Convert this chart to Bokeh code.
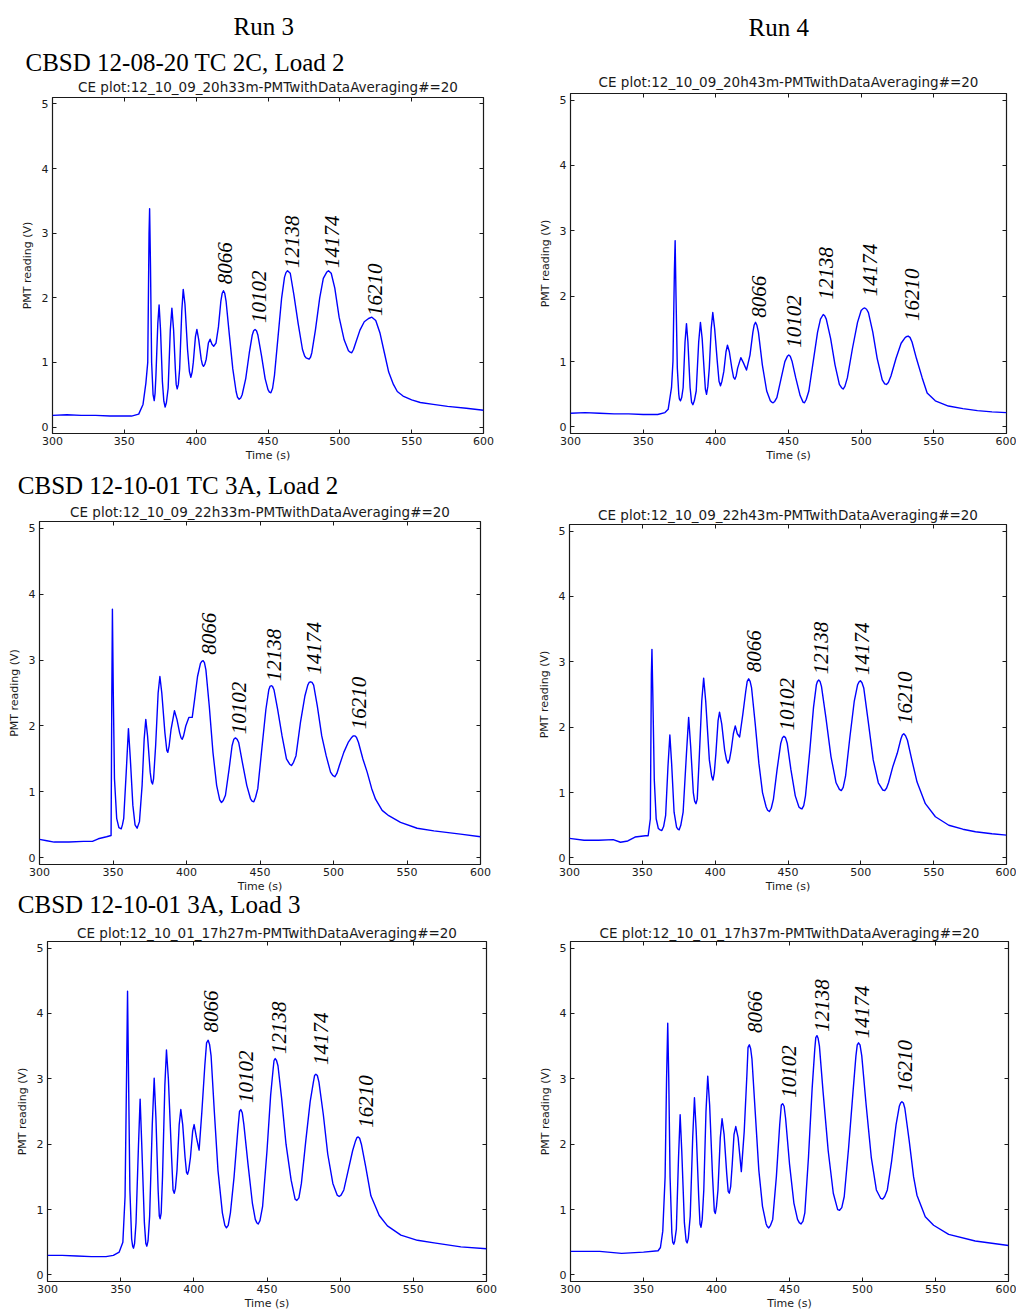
import math
from bokeh.plotting import figure
from bokeh.layouts import column, row
from bokeh.models import Range1d, FixedTicker, LinearAxis, Title, ColumnDataSource
from bokeh.core.properties import value
from bokeh.embed import file_html
from bokeh.resources import INLINE

# ---------------- data ----------------
x_ticks = [300, 350, 400, 450, 500, 550, 600]
y_ticks = [0, 1, 2, 3, 4, 5]
peak_labels = ["8066", "10102", "12138", "14174", "16210"]

titles = [
    "CE plot:12_10_09_20h33m-PMTwithDataAveraging#=20",
    "CE plot:12_10_09_20h43m-PMTwithDataAveraging#=20",
    "CE plot:12_10_09_22h33m-PMTwithDataAveraging#=20",
    "CE plot:12_10_09_22h43m-PMTwithDataAveraging#=20",
    "CE plot:12_10_01_17h27m-PMTwithDataAveraging#=20",
    "CE plot:12_10_01_17h37m-PMTwithDataAveraging#=20",
]
run_headers = ["Run 3", "Run 4"]
sample_headers = ["CBSD 12-08-20 TC 2C, Load 2",
                  "CBSD 12-10-01 TC 3A, Load 2",
                  "CBSD 12-10-01 3A, Load 3"]

# (time s, PMT reading V); extra points near peak tops / valley bottoms are listed at the end of each
trace_1 = [(300, 0.18), (310, 0.19), (320, 0.18), (330, 0.18), (340, 0.17), (350, 0.17), (355, 0.17),
           (360, 0.2), (363, 0.35), (365, 0.68), (366.3, 1.0), (367.2, 3.0), (367.6, 3.38), (368.2, 2.5),
           (369, 1.0), (370, 0.5), (370.8, 0.41), (372, 0.8), (373.3, 1.6), (374.2, 1.89), (375.2, 1.5),
           (376.5, 0.7), (378.4, 0.31), (380.5, 0.6), (382, 1.5), (383.1, 1.84), (384.3, 1.5), (385.5, 0.9),
           (386.8, 0.59), (388.5, 0.9), (390, 1.8), (391, 2.13), (392.2, 1.9), (394, 1.2), (396.3, 0.77),
           (398, 1.0), (399.5, 1.4), (400.5, 1.51), (401.8, 1.35), (403.5, 1.05), (405.1, 0.94), (407, 1.05),
           (408.5, 1.3), (409.7, 1.36), (411, 1.28), (412.2, 1.25), (413.8, 1.3), (415.5, 1.55), (417.2, 1.95),
           (419, 2.11), (420.8, 1.95), (423, 1.45), (425.5, 0.9), (427.8, 0.55), (429.9, 0.43), (432, 0.5),
           (434.5, 0.75), (437, 1.15), (439, 1.42), (441, 1.51), (443, 1.42), (445.5, 1.1), (448, 0.75),
           (450, 0.58), (452, 0.53), (454.5, 0.8), (457, 1.4), (459.5, 2.0), (461.5, 2.32), (463.6, 2.42),
           (465.5, 2.38), (468, 2.05), (471, 1.6), (474, 1.2), (476.5, 1.07), (478.6, 1.05), (480.5, 1.15),
           (483, 1.5), (486, 2.0), (488.5, 2.3), (491, 2.4), (492.1, 2.42), (494, 2.38), (496.5, 2.15),
           (499.5, 1.7), (503, 1.35), (506, 1.18), (508.3, 1.15), (511, 1.3), (514, 1.5), (517, 1.63),
           (520, 1.68), (522.3, 1.70), (525, 1.65), (528, 1.45), (531, 1.15), (534, 0.85), (537.3, 0.66),
           (540, 0.55), (544, 0.48), (550, 0.42), (556, 0.38), (565, 0.35), (575, 0.32), (588, 0.29), (600, 0.26),
           (371.4, 0.52), (377.5, 0.4), (379.3, 0.38), (386.1, 0.66), (387.6, 0.66), (395.3, 0.86),
           (397.2, 0.85), (404.3, 0.97), (406, 0.97), (418.1, 2.07), (419.9, 2.07), (428.8, 0.46),
           (431, 0.45), (440, 1.49), (442, 1.49), (451, 0.54), (453.2, 0.6), (462.5, 2.39), (475.5, 1.1),
           (479.6, 1.08), (507.2, 1.16), (509.5, 1.2)]

trace_2 = [(300, 0.21), (310, 0.22), (320, 0.21), (330, 0.2), (340, 0.2), (350, 0.19), (360, 0.19), (365, 0.22),
           (367.2, 0.27), (369.5, 0.6), (370.5, 1.0), (371.5, 2.4), (372, 2.85), (372.6, 2.0), (373.5, 0.9),
           (374.5, 0.5), (375.7, 0.4), (377.5, 0.6), (378.8, 1.3), (379.8, 1.58), (380.8, 1.3), (382.3, 0.6),
           (384.2, 0.34), (386.5, 0.55), (388.2, 1.3), (389.4, 1.6), (390.6, 1.35), (392, 0.85), (393.6, 0.5),
           (395.5, 0.9), (396.8, 1.5), (397.9, 1.75), (399.2, 1.5), (401, 1.0), (403.2, 0.63), (405.5, 0.85),
           (407, 1.15), (408, 1.25), (409.3, 1.15), (411, 0.9), (413.1, 0.73), (415, 0.9), (417.2, 1.06),
           (419, 0.98), (421.1, 0.87), (423.5, 1.1), (425.5, 1.45), (427.3, 1.6), (429.3, 1.45), (432, 0.95),
           (435, 0.55), (437.5, 0.4), (439.4, 0.37), (442, 0.45), (445, 0.75), (447.5, 1.0), (450.2, 1.1),
           (452.5, 1.0), (455, 0.75), (458, 0.48), (461, 0.37), (464, 0.55), (467, 1.0), (470, 1.45),
           (472, 1.65), (473.9, 1.72), (476, 1.65), (479, 1.35), (482, 0.95), (485, 0.65), (487.6, 0.58),
           (490.5, 0.75), (494, 1.2), (497.5, 1.6), (500, 1.78), (502.5, 1.82), (505, 1.75), (508, 1.45),
           (511, 1.05), (514.5, 0.72), (517.4, 0.65), (520.5, 0.78), (524, 1.05), (527.5, 1.28), (530, 1.36),
           (532.3, 1.39), (535, 1.3), (538, 1.05), (542, 0.75), (545.4, 0.52), (551, 0.4), (560, 0.32),
           (570, 0.28), (580, 0.25), (590, 0.23), (600, 0.22),
           (374.9, 0.43), (376.5, 0.45), (383.3, 0.38), (385.2, 0.4), (392.8, 0.58), (394.5, 0.62),
           (402.2, 0.7), (404.2, 0.7), (412.2, 0.76), (414, 0.78), (426.4, 1.56), (428.2, 1.56),
           (438.5, 0.38), (440.5, 0.39), (449.2, 1.08), (451.2, 1.08), (460, 0.38), (462.2, 0.42),
           (474.9, 1.7), (486.5, 0.6), (488.8, 0.62), (501.3, 1.81), (503.7, 1.8), (516.2, 0.66),
           (518.7, 0.68), (531, 1.38), (533.6, 1.37)]

trace_3 = [(300, 0.28), (305, 0.26), (310, 0.24), (320, 0.24), (330, 0.25), (336, 0.25), (340, 0.29),
           (345.6, 0.32), (348.7, 0.34), (349.2, 2.5), (349.6, 3.77), (350.2, 2.5), (351, 1.2), (352.5, 0.6),
           (354, 0.46), (355.6, 0.44), (357.3, 0.6), (359, 1.3), (360.5, 1.96), (361.8, 1.5), (363.5, 0.8),
           (365, 0.5), (366.4, 0.45), (368, 0.55), (369.8, 1.1), (371.2, 1.8), (372.3, 2.1), (373.5, 1.85),
           (375.3, 1.3), (376.9, 1.12), (379, 1.7), (380.7, 2.5), (381.9, 2.75), (383.2, 2.5), (385.3, 1.9),
           (387.3, 1.6), (389.5, 1.95), (391.8, 2.23), (393.5, 2.1), (395.3, 1.9), (397.1, 1.8), (399.5, 2.0),
           (401.6, 2.13), (403.9, 2.13), (405.5, 2.4), (407.5, 2.75), (409.5, 2.95), (411.3, 2.99),
           (413.2, 2.85), (415.5, 2.3), (418, 1.6), (420.5, 1.1), (423.8, 0.84), (426.5, 0.95), (429, 1.35),
           (431, 1.7), (433.3, 1.82), (435.5, 1.75), (438, 1.45), (441, 1.1), (443.5, 0.9), (445.8, 0.85),
           (448.5, 1.05), (451, 1.6), (454, 2.25), (456, 2.55), (457.6, 2.61), (459.5, 2.55), (462, 2.25),
           (465, 1.85), (468, 1.5), (471.4, 1.4), (474.5, 1.55), (477.5, 2.05), (480.5, 2.45), (482.5, 2.62),
           (484.4, 2.67), (486.5, 2.62), (489, 2.3), (492, 1.85), (495, 1.55), (498, 1.3), (500.9, 1.23),
           (504, 1.4), (507, 1.6), (510, 1.75), (512.5, 1.83), (514.5, 1.85), (517, 1.75), (520, 1.5),
           (522.9, 1.3), (526, 1.05), (528.6, 0.89), (533.1, 0.72), (537.6, 0.64), (545.6, 0.54),
           (556.9, 0.45), (568.3, 0.41), (586.4, 0.36), (600, 0.32),
           (356.4, 0.5), (376.2, 1.15), (377.6, 1.2), (386.6, 1.63), (388.2, 1.7), (396.3, 1.82),
           (398, 1.85), (410.4, 2.98), (412.2, 2.96), (422.6, 0.88), (425, 0.87), (432.2, 1.8),
           (434.4, 1.8), (444.6, 0.86), (447, 0.92), (456.8, 2.6), (458.5, 2.6), (470.2, 1.42),
           (472.8, 1.45), (483.4, 2.66), (485.4, 2.66), (499.5, 1.25), (502.3, 1.28), (513.5, 1.85),
           (515.6, 1.83)]

trace_4 = [(300, 0.3), (310, 0.27), (320, 0.27), (330, 0.28), (335, 0.24), (340, 0.26), (345, 0.32),
           (352, 0.34), (354, 0.34), (355.5, 0.6), (356.2, 2.8), (356.6, 3.19), (357.2, 2.5), (358.2, 1.2),
           (359.5, 0.6), (361, 0.45), (363.4, 0.42), (366, 0.65), (367.6, 1.4), (368.9, 1.88), (370.1, 1.45),
           (371.8, 0.7), (373.5, 0.47), (375.3, 0.43), (378, 0.7), (380.3, 1.6), (381.8, 2.15), (383.2, 1.7),
           (385, 1.0), (386.8, 0.83), (389, 1.5), (390.8, 2.4), (392.1, 2.75), (393.5, 2.4), (396, 1.5),
           (398.5, 1.19), (400.5, 1.6), (402, 2.1), (403, 2.23), (404.5, 2.05), (406.5, 1.65), (408.8, 1.45),
           (411, 1.65), (412.5, 1.9), (413.8, 2.02), (415.2, 1.9), (416.8, 1.85), (419, 2.2), (421, 2.55),
           (423, 2.74), (425, 2.6), (427.5, 2.05), (430, 1.45), (432.5, 1.0), (435, 0.78), (437.2, 0.71),
           (440, 0.9), (442.5, 1.35), (445, 1.75), (447.2, 1.86), (449.5, 1.75), (452, 1.35), (455, 0.95),
           (457.5, 0.78), (459.6, 0.75), (462, 0.95), (465, 1.65), (467.5, 2.3), (469.5, 2.65), (471.1, 2.72),
           (473, 2.62), (476, 2.15), (479.5, 1.55), (483, 1.15), (486.6, 1.03), (489.5, 1.25), (492.5, 1.85),
           (495.5, 2.4), (497.8, 2.65), (499.7, 2.71), (502, 2.6), (505, 2.1), (508.5, 1.5), (512, 1.15),
           (516.4, 1.03), (519, 1.15), (522, 1.4), (525, 1.6), (527.5, 1.82), (529.5, 1.9), (532, 1.8),
           (535, 1.5), (538.6, 1.16), (544.3, 0.83), (551.2, 0.63), (560.4, 0.5), (570, 0.44), (578.7, 0.4),
           (590, 0.37), (600, 0.35),
           (362.2, 0.43), (364.6, 0.48), (374.4, 0.44), (376.4, 0.5), (385.9, 0.87), (387.7, 0.9),
           (397.6, 1.25), (399.4, 1.3), (407.8, 1.5), (409.8, 1.5), (422, 2.7), (424, 2.7), (436, 0.73),
           (438.5, 0.76), (446.2, 1.84), (448.3, 1.84), (458.5, 0.76), (460.8, 0.8), (470.2, 2.7),
           (472, 2.7), (485.3, 1.05), (487.9, 1.08), (498.7, 2.69), (500.8, 2.68), (515, 1.04),
           (517.7, 1.07), (528.5, 1.88), (530.7, 1.87)]

trace_5 = [(300, 0.3), (310, 0.3), (320, 0.29), (330, 0.28), (340, 0.28), (345, 0.3), (349, 0.35),
           (351.5, 0.5), (353, 1.2), (354, 3.0), (354.7, 4.34), (355.4, 3.0), (356.3, 1.3), (357.5, 0.55),
           (358.8, 0.41), (360.5, 0.8), (362.2, 2.0), (363.3, 2.69), (364.4, 2.0), (366.2, 0.8), (367.9, 0.44),
           (369.8, 0.9), (371.6, 2.3), (372.9, 3.01), (374.1, 2.4), (375.6, 1.3), (377, 0.86), (378.6, 1.5),
           (380.2, 2.9), (381.3, 3.44), (382.6, 3.0), (384.8, 1.8), (386.6, 1.25), (388.5, 1.6), (390, 2.3),
           (391.1, 2.53), (392.4, 2.3), (394, 1.8), (395.7, 1.54), (397.7, 1.8), (399.2, 2.2), (400.2, 2.3),
           (401.8, 2.1), (403.6, 1.91), (405.5, 2.5), (407.5, 3.2), (409.8, 3.59), (411.8, 3.35), (414, 2.5),
           (416.5, 1.6), (419.5, 0.95), (422.3, 0.72), (425, 0.95), (427.5, 1.5), (430, 2.2), (432.1, 2.53),
           (434.2, 2.3), (437, 1.7), (440, 1.1), (442, 0.85), (444, 0.78), (447, 1.05), (450, 1.9),
           (452.5, 2.75), (454.2, 3.15), (455.6, 3.31), (457.5, 3.2), (460, 2.7), (463, 2.0), (466.5, 1.45),
           (470.4, 1.14), (473.5, 1.4), (476.5, 2.05), (479.5, 2.65), (481.7, 2.95), (483.4, 3.07),
           (485.5, 2.95), (488.5, 2.45), (491.5, 1.85), (495, 1.4), (499.3, 1.2), (502.5, 1.3), (505.5, 1.6),
           (508.5, 1.9), (510.5, 2.05), (512.3, 2.11), (514.5, 2.0), (517.5, 1.65), (521, 1.21), (526.7, 0.91),
           (532.3, 0.75), (541.5, 0.61), (552.8, 0.53), (564.2, 0.49), (582.5, 0.43), (600, 0.4),
           (358.2, 0.44), (359.5, 0.48), (367.2, 0.48), (368.7, 0.52), (376.4, 0.9), (377.7, 0.95),
           (385.8, 1.3), (387.4, 1.32), (395, 1.57), (396.5, 1.6), (408.7, 3.55), (410.8, 3.52),
           (421.2, 0.76), (423.5, 0.76), (431.2, 2.5), (433.1, 2.48), (443, 0.8), (445.2, 0.83),
           (454.8, 3.28), (456.5, 3.28), (469.2, 1.16), (471.8, 1.18), (482.5, 3.05), (484.4, 3.05),
           (498, 1.22), (500.6, 1.22), (511.4, 2.1), (513.3, 2.09)]

trace_6 = [(300, 0.36), (310, 0.36), (320, 0.36), (335, 0.33), (350, 0.35), (360, 0.37), (361.6, 0.42),
           (363.2, 0.67), (364.8, 1.5), (365.8, 3.0), (366.6, 3.85), (367.3, 3.0), (368.2, 1.5), (369.4, 0.65),
           (370.7, 0.47), (372.5, 0.7), (374, 1.8), (375.1, 2.45), (376.2, 1.9), (378, 0.8), (379.9, 0.49),
           (382, 0.9), (383.7, 2.1), (384.9, 2.71), (386.1, 2.2), (387.8, 1.2), (389.4, 0.73), (391.3, 1.3),
           (392.8, 2.5), (394, 3.04), (395.3, 2.6), (397.3, 1.5), (399.2, 0.94), (401, 1.3), (402.6, 2.1),
           (403.8, 2.39), (405.2, 2.15), (407, 1.55), (408.8, 1.25), (410.8, 1.7), (412, 2.15), (413.2, 2.27),
           (414.8, 2.1), (417, 1.58), (419, 2.2), (420.8, 3.05), (422.5, 3.52), (424.3, 3.3), (426.5, 2.5),
           (429, 1.6), (431.5, 1.05), (434, 0.78), (435.8, 0.72), (438.5, 0.85), (441, 1.5), (443.3, 2.3),
           (445.3, 2.62), (447.3, 2.4), (450, 1.7), (453, 1.1), (455.5, 0.85), (457.9, 0.78), (460.5, 0.95),
           (463, 1.8), (465.5, 2.85), (467.3, 3.45), (468.8, 3.66), (470.5, 3.5), (473, 2.8), (476.5, 1.9),
           (480, 1.25), (484.3, 0.99), (487.5, 1.2), (490.5, 1.95), (493.5, 2.8), (495.5, 3.35), (497.3, 3.55),
           (499.5, 3.35), (502.5, 2.6), (506, 1.8), (509.5, 1.3), (513.8, 1.16), (517, 1.3), (520, 1.75),
           (523, 2.3), (525.2, 2.58), (527, 2.65), (529, 2.55), (532, 2.05), (535, 1.5), (537.3, 1.22),
           (543, 0.89), (548.7, 0.76), (559, 0.62), (577.2, 0.52), (600, 0.45),
           (370, 0.5), (371.4, 0.52), (379.2, 0.52), (380.7, 0.56), (388.7, 0.78), (390.2, 0.85),
           (398.5, 0.98), (400, 1.05), (408, 1.28), (409.7, 1.35), (421.6, 3.48), (423.4, 3.46),
           (434.8, 0.74), (437, 0.76), (444.4, 2.6), (446.3, 2.58), (456.7, 0.8), (459.2, 0.82),
           (468, 3.63), (469.6, 3.62), (483, 1.0), (485.8, 1.03), (496.4, 3.52), (498.3, 3.52),
           (512.5, 1.17), (515.2, 1.2), (526.1, 2.63), (528, 2.63)]

# peak-label anchors (time s, V) for each panel
label_x_1 = [420.2, 443.6, 466.4, 494.7, 524.6]
label_y_1 = [2.21, 1.61, 2.46, 2.46, 1.72]
label_x_2 = [429.4, 453.9, 476.1, 506.0, 535.3]
label_y_2 = [1.67, 1.21, 1.95, 2.00, 1.62]
label_x_3 = [415.2, 435.8, 459.4, 486.8, 517.2]
label_y_3 = [3.08, 1.875, 2.68, 2.78, 1.95]
label_x_4 = [426.4, 449.5, 472.7, 500.6, 530.1]
label_y_4 = [2.84, 1.95, 2.81, 2.80, 2.05]
label_x_5 = [411.8, 435.8, 458.3, 486.8, 517.8]
label_y_5 = [3.71, 2.63, 3.38, 3.21, 2.25]
label_x_6 = [426.2, 449.4, 472.3, 499.6, 528.8]
label_y_6 = [3.70, 2.71, 3.72, 3.62, 2.79]

# ---------------- drawing ----------------
INK = "#1a1a1a"
SERIF = "Liberation Serif"


def hidden_axis(ticks, tick_in=4, tick_out=0, tick_color=INK):
    ax = LinearAxis(ticker=FixedTicker(ticks=ticks))
    ax.major_tick_in = tick_in
    ax.major_tick_out = tick_out
    ax.minor_tick_in = 0
    ax.minor_tick_out = 0
    ax.axis_line_color = None
    ax.major_tick_line_color = tick_color
    ax.major_label_text_font_size = "0px"
    ax.major_label_text_color = None
    ax.major_label_standoff = 0
    ax.axis_label_standoff = 0
    return ax


def add_title(p, text, font, size, standoff, align="center", offset=0, color=INK, place="above"):
    p.add_layout(Title(text=text, text_font=font, text_font_size=size, text_font_style="normal",
                       text_color=color, align=align, offset=offset, standoff=standoff), place)


def make_panel(title, trace, lab_x, lab_y, width, height, bl, br, bt, bb, title_standoff):
    p = figure(width=width, height=height, output_backend="svg", toolbar_location=None,
               x_range=Range1d(300, 600), y_range=Range1d(-0.1, 5.1),
               min_border_left=bl, min_border_right=br, min_border_top=bt, min_border_bottom=bb)
    p.xgrid.visible = False
    p.ygrid.visible = False
    p.background_fill_color = "white"
    p.border_fill_color = "white"
    p.outline_line_color = INK
    p.outline_line_width = 1.2

    for ax in (p.xaxis[0], p.yaxis[0]):
        ax.major_tick_in = 4
        ax.major_tick_out = 0
        ax.minor_tick_in = 0
        ax.minor_tick_out = 0
        ax.axis_line_color = None
        ax.major_tick_line_color = INK
        ax.major_label_text_font = "DejaVu Sans"
        ax.major_label_text_font_size = "11px"
        ax.major_label_text_color = INK
        ax.axis_label_text_font = "DejaVu Sans"
        ax.axis_label_text_font_size = "11px"
        ax.axis_label_text_font_style = "normal"
        ax.axis_label_text_color = INK
    p.xaxis.ticker = FixedTicker(ticks=x_ticks)
    p.yaxis.ticker = FixedTicker(ticks=y_ticks)
    p.xaxis.axis_label = "Time (s)"
    p.yaxis.axis_label = "PMT reading (V)"
    p.xaxis.major_label_standoff = 3
    p.xaxis.axis_label_standoff = 1
    p.yaxis.major_label_standoff = 4
    p.yaxis.axis_label_standoff = 5

    p.add_layout(hidden_axis(x_ticks), "above")
    p.add_layout(hidden_axis(y_ticks), "right")
    add_title(p, title, "DejaVu Sans", "13.5px", title_standoff)

    pts = sorted(trace)
    src = ColumnDataSource(dict(t=[a for a, b in pts], v=[b for a, b in pts]))
    p.line(x="t", y="v", source=src, line_color="#0000ff", line_width=1.4, line_join="round")

    lsrc = ColumnDataSource(dict(x=lab_x, y=lab_y, text=peak_labels))
    p.text(x="x", y="y", text="text", source=lsrc, angle=math.pi / 2,
           text_align="left", text_baseline="middle",
           text_font=value(SERIF), text_font_style="italic",
           text_font_size="21px", text_color="black")
    return p


# rows: 0-468, 468-922, 922-1312 (the third sample header sits under panel 3)
p1 = make_panel(titles[0], trace_1, label_x_1, label_y_1, 508, 468, 52, 25, 97, 35, 4.4)
p2 = make_panel(titles[1], trace_2, label_x_2, label_y_2, 508, 468, 62, 10, 93, 35, 6.4)
p3 = make_panel(titles[2], trace_3, label_x_3, label_y_3, 508, 454, 39, 28, 53, 58, 3.8)
p4 = make_panel(titles[3], trace_4, label_x_4, label_y_4, 508, 454, 61, 10, 56, 58, 3.2)
p5 = make_panel(titles[4], trace_5, label_x_5, label_y_5, 508, 390, 47, 22, 19, 29, 1.3)
p6 = make_panel(titles[5], trace_6, label_x_6, label_y_6, 508, 390, 62, 8, 19, 28, 1.3)

add_title(p1, sample_headers[0], SERIF, "25px", 0, align="left", offset=-27, color="black")
add_title(p1, run_headers[0], SERIF, "25px", 13.1, align="left", offset=181, color="black")
# invisible spacer (white tick at the far right) between panel-2 title and the "Run 4" header
p2.add_layout(hidden_axis([600], tick_in=0, tick_out=29, tick_color="white"), "above")
add_title(p2, run_headers[1], SERIF, "25px", 0, align="left", offset=178, color="black")
add_title(p3, sample_headers[1], SERIF, "25px", 1.7, align="left", offset=-21.7, color="black")
add_title(p3, sample_headers[2], SERIF, "25px", -13, align="left", offset=-21.7, color="black",
          place="below")

layout = column(row(column(p1), column(p2)),
                row(column(p3), column(p4)),
                row(column(p5), column(p6)))
open("out.html", "w").write(file_html(layout, INLINE))
